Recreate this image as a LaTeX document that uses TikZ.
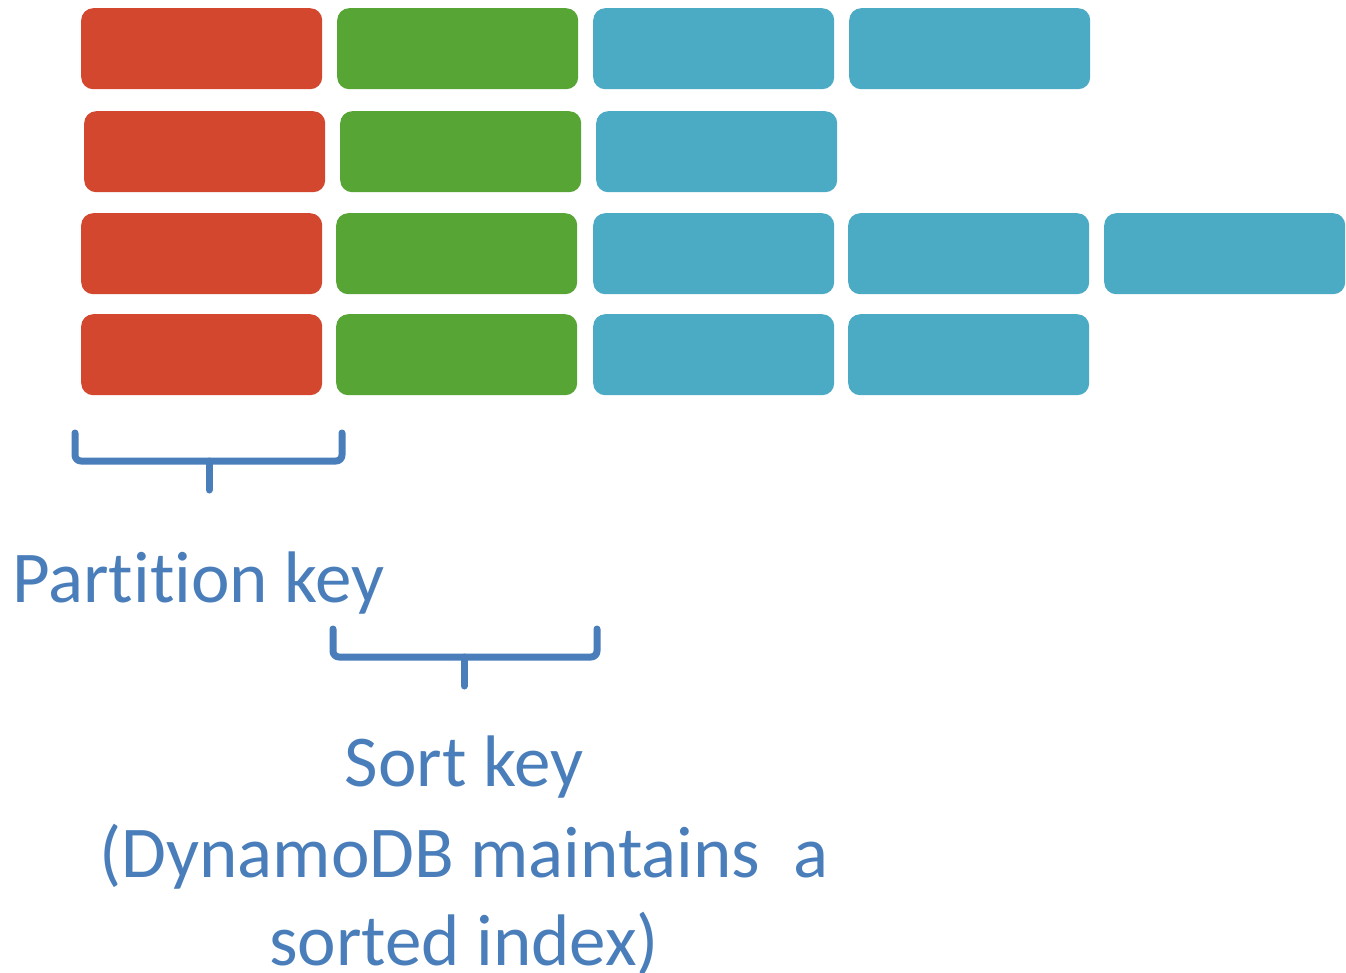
\documentclass[tikz,border=0pt]{standalone}
\usepackage{fontspec}
\setmainfont[Ligatures=NoCommon]{Carlito}
\definecolor{cred}{HTML}{D3472E}
\definecolor{cgreen}{HTML}{56A535}
\definecolor{cblue}{HTML}{4BAAC4}
\definecolor{ctext}{HTML}{4A7EBB}
\begin{document}
\begin{tikzpicture}[x=1pt,y=-1pt,
  cell/.style={anchor=north west,minimum width=241pt,minimum height=81pt,inner sep=0pt,rounded corners=12pt,draw=none},
  redcell/.style={cell,fill=cred},
  greencell/.style={cell,fill=cgreen},
  bluecell/.style={cell,fill=cblue},
  brace/.style={draw=ctext,line width=7pt,line cap=round,line join=round,rounded corners=6pt},
  lbl/.style={text=ctext,inner sep=0pt,font=\fontsize{73}{90}\selectfont}]
\useasboundingbox (0,0) rectangle (1346,972);
% row 1
\node[redcell]   (r1a) at (81,8) {};
\node[greencell] (r1b) at (337,8) {};
\node[bluecell]  (r1c) at (593,8) {};
\node[bluecell]  (r1d) at (849,8) {};
% row 2
\node[redcell]   (r2a) at (84,111) {};
\node[greencell] (r2b) at (340,111) {};
\node[bluecell]  (r2c) at (596,111) {};
% row 3
\node[redcell]   (r3a) at (81,213) {};
\node[greencell] (r3b) at (336,213) {};
\node[bluecell]  (r3c) at (593,213) {};
\node[bluecell]  (r3d) at (848,213) {};
\node[bluecell]  (r3e) at (1104,213) {};
% row 4
\node[redcell]   (r4a) at (81,314) {};
\node[greencell] (r4b) at (336,314) {};
\node[bluecell]  (r4c) at (593,314) {};
\node[bluecell]  (r4d) at (848,314) {};
% braces
\draw[brace] (75,433) -- (75,461) -- (342,461) -- (342,433);
\draw[draw=ctext,line width=7pt,line cap=round] (209,461) -- (209,490);
\draw[brace] (333,629) -- (333,657) -- (597,657) -- (597,629);
\draw[draw=ctext,line width=7pt,line cap=round] (464,657) -- (464,686);
% labels
\node[lbl,anchor=base west] (pk) at (12,602) {Partition key};
\node[lbl,anchor=base] (sk) at (464,786) {Sort key};
\node[lbl,anchor=base] (sk2) at (464,877) {(DynamoDB maintains\ \ a};
\node[lbl,anchor=base] (sk3) at (464,965) {sorted index)};
\end{tikzpicture}
\end{document}
